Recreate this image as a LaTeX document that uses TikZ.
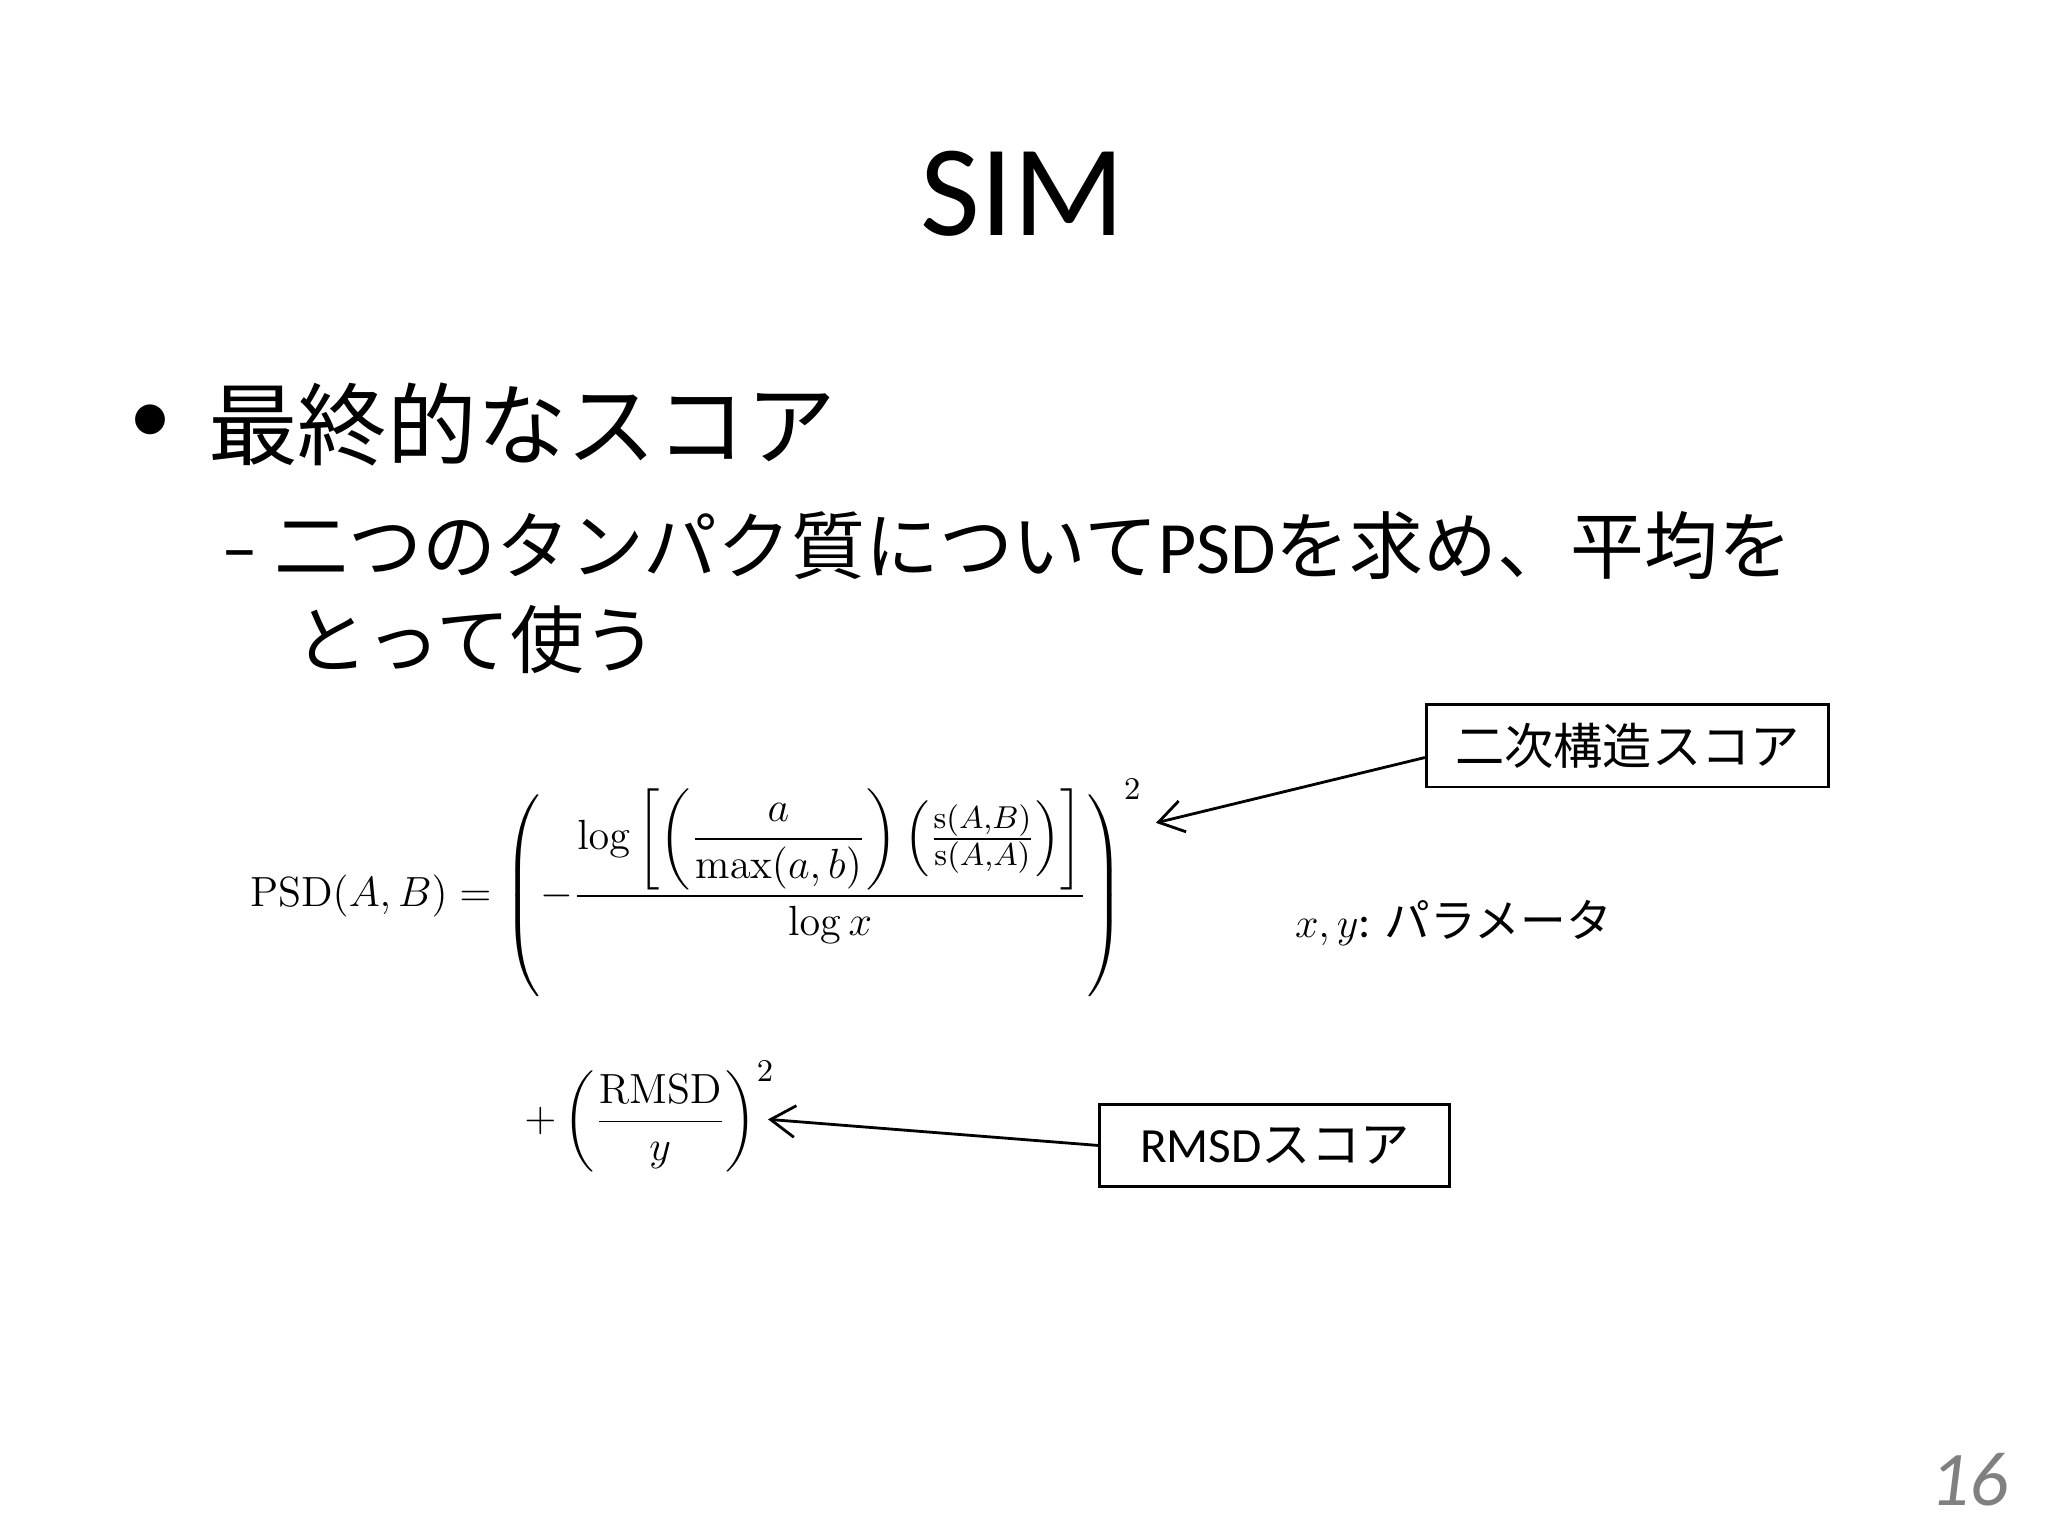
\documentclass[tikz,border=0pt]{standalone}
\usepackage{amsmath}
\usepackage[no-math]{fontspec}
\setmainfont{Carlito}
\newfontfamily\cjk{Noto Sans CJK JP}
\newfontfamily\tms{Liberation Serif}
\usetikzlibrary{arrows.meta}
\begin{document}
\begin{tikzpicture}[x=0.01306cm,y=-0.01306cm,
  lbl/.style={draw,thick,minimum width=#1,minimum height=63*0.01306cm,inner sep=0pt,font=\cjk\fontsize{14}{17}\selectfont},
  arr/.style={thick,-{Straight Barb[length=7pt,width=9pt]}}]
\useasboundingbox (0,0) rectangle (1568,1176);
\node (title) at (783,148) {\fontsize{37}{40}\selectfont SIM};
\node[anchor=west] (bul) at (90,325) {\fontsize{24}{28}\selectfont •};
\node[anchor=west] (l1) at (150,325) {\cjk\fontsize{25.5}{30}\selectfont 最終的なスコア};
\node[anchor=west] (l2) at (160,418) {\fontsize{21}{25}\selectfont – \cjk 二つのタンパク質について\rmfamily PSD\cjk を求め、平均を};
\node[anchor=west] (l3) at (216,490) {\cjk\fontsize{21}{25}\selectfont とって使う};
\node[anchor=west] (f1) at (182,680) {\fontsize{12.5}{15}\selectfont $\displaystyle \mathrm{PSD}(A,B)=\left(-\frac{\log\left[\left(\dfrac{a}{\max(a,b)}\right)\left(\frac{\mathrm{s}(A,B)}{\mathrm{s}(A,A)}\right)\right]}{\log x}\right)^{2}$};
\node[anchor=west] (f2) at (392,855) {\fontsize{12.5}{15}\selectfont $\displaystyle +\left(\frac{\mathrm{RMSD}}{y}\right)^{2}$};
\node[lbl=308*0.01306cm] (b1) at (1246,571) {二次構造スコア};
\node[lbl=268*0.01306cm] (b2) at (976,877) {\rmfamily RMSD\cjk スコア};
\coordinate (t1) at (885,630);
\coordinate (t2) at (588,857);
\draw[arr] (b1.west|-0,580) -- (t1);
\draw[arr] (b2.west) -- (t2);
\node[anchor=west] (par) at (982,707) {\fontsize{13}{16}\selectfont $x,y$: \cjk パラメータ};
\node (pg) at (1508,1133) {\color{gray}\fontsize{22}{26}\selectfont\itshape 16};
\end{tikzpicture}
\end{document}
